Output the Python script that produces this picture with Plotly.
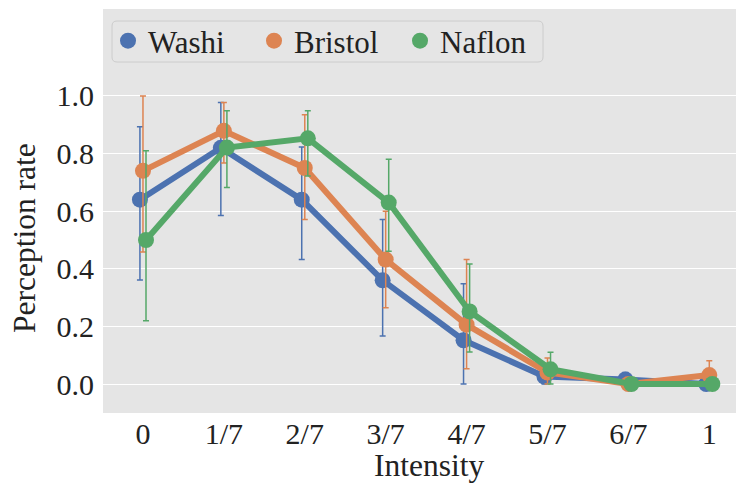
import plotly.graph_objects as go

categories = ["0", "1/7", "2/7", "3/7", "4/7", "5/7", "6/7", "1"]
series_names = ["Washi", "Bristol", "Naflon"]
colors = ["#4C72B0", "#DD8452", "#55A868"]
x_title = "Intensity"
y_title = "Perception rate"

washi = [0.64, 0.82, 0.64, 0.36, 0.152, 0.026, 0.016, 0.0]
washi_hi = [0.893, 0.977, 0.823, 0.571, 0.348, 0.06, 0.04, 0.0]
washi_lo = [0.361, 0.585, 0.432, 0.167, 0.0, 0.0, 0.0, 0.0]

bristol = [0.74, 0.879, 0.75, 0.432, 0.206, 0.04, 0.0, 0.031]
bristol_hi = [1.0, 0.977, 0.935, 0.60, 0.432, 0.09, 0.0, 0.081]
bristol_lo = [0.458, 0.767, 0.571, 0.265, 0.053, 0.0, 0.0, 0.0]

naflon = [0.50, 0.821, 0.853, 0.63, 0.252, 0.051, 0.0, 0.0]
naflon_hi = [0.81, 0.949, 0.949, 0.78, 0.417, 0.11, 0.0, 0.0]
naflon_lo = [0.22, 0.682, 0.722, 0.461, 0.111, 0.0, 0.0, 0.0]

means = [washi, bristol, naflon]
his = [washi_hi, bristol_hi, naflon_hi]
los = [washi_lo, bristol_lo, naflon_lo]
dodge = [-0.0375, 0.0, 0.0375]

FONT = "Liberation Serif"
TXT = "#222222"

fig = go.Figure()
for name, col, m, hi, lo, d in zip(series_names, colors, means, his, los, dodge):
    xs = [i + d for i in range(len(categories))]
    fig.add_trace(go.Scatter(
        x=xs, y=m, mode="lines+markers", name=name, showlegend=False,
        line=dict(color=col, width=6),
        marker=dict(color=col, size=16),
        error_y=dict(type="data", symmetric=False,
                     array=[h - v for h, v in zip(hi, m)],
                     arrayminus=[v - l for v, l in zip(m, lo)],
                     color=col, thickness=1.5, width=3),
    ))
for name, col in zip(series_names, colors):
    fig.add_trace(go.Scatter(
        x=[None], y=[None], mode="markers", name=name,
        marker=dict(color=col, size=16),
    ))

# plot-area geometry (pixels) for paper-coordinate placement
L, T, B = 103.0, 9.0, 413.0
PW, PH = 736.0 - L, B - T

def px(x):
    return (x - L) / PW

def py(y):
    return (B - y) / PH

lx0, lx1 = px(112), px(543)
ly0, ly1 = py(62), py(21)
rx, ry = 5 / PW, 5 / PH
frame = (f"M {lx0+rx},{ly1} L {lx1-rx},{ly1} Q {lx1},{ly1} {lx1},{ly1-ry} "
         f"L {lx1},{ly0+ry} Q {lx1},{ly0} {lx1-rx},{ly0} "
         f"L {lx0+rx},{ly0} Q {lx0},{ly0} {lx0},{ly0+ry} "
         f"L {lx0},{ly1-ry} Q {lx0},{ly1} {lx0+rx},{ly1} Z")

fig.update_layout(
    width=736, height=484,
    margin=dict(l=int(L), r=0, t=int(T), b=484 - int(B)),
    paper_bgcolor="white", plot_bgcolor="#e5e5e5",
    font=dict(family=FONT, size=30, color=TXT),
    showlegend=True,
    shapes=[dict(type="path", path=frame, xref="paper", yref="paper",
                 line=dict(color="#cccccc", width=1), fillcolor="#e5e5e5",
                 layer="below")],
    annotations=[
        dict(text=x_title, xref="paper", yref="paper", x=px(428.5), y=py(465),
             xanchor="center", yanchor="middle", showarrow=False,
             font=dict(family=FONT, size=31.5, color=TXT)),
        dict(text=y_title, xref="paper", yref="paper", x=px(24), y=py(238),
             xanchor="center", yanchor="middle", showarrow=False, textangle=-90,
             font=dict(family=FONT, size=31.5, color=TXT)),
    ],
    legend=dict(
        orientation="h", x=px(108), y=py(41),
        xanchor="left", yanchor="middle",
        bgcolor="rgba(0,0,0,0)", borderwidth=0,
        font=dict(family=FONT, size=31, color=TXT),
        entrywidth=101, entrywidthmode="pixels",
        itemwidth=30,
    ),
    xaxis=dict(
        range=[-0.494, 7.33], tickmode="array",
        tickvals=list(range(len(categories))), ticktext=categories,
        showgrid=False, zeroline=False, ticks="", showline=False,
        tickfont=dict(family=FONT, size=30, color=TXT), ticklabelstandoff=0,
    ),
    yaxis=dict(
        range=[-0.1007, 1.302], tickmode="array",
        tickvals=[0, 0.2, 0.4, 0.6, 0.8, 1.0],
        ticktext=["0.0", "0.2", "0.4", "0.6", "0.8", "1.0"],
        showgrid=True, gridcolor="white", gridwidth=1.2,
        zeroline=False, ticks="", showline=False,
        tickfont=dict(family=FONT, size=30, color=TXT), ticklabelstandoff=8,
    ),
)

fig.write_html("out.html")
